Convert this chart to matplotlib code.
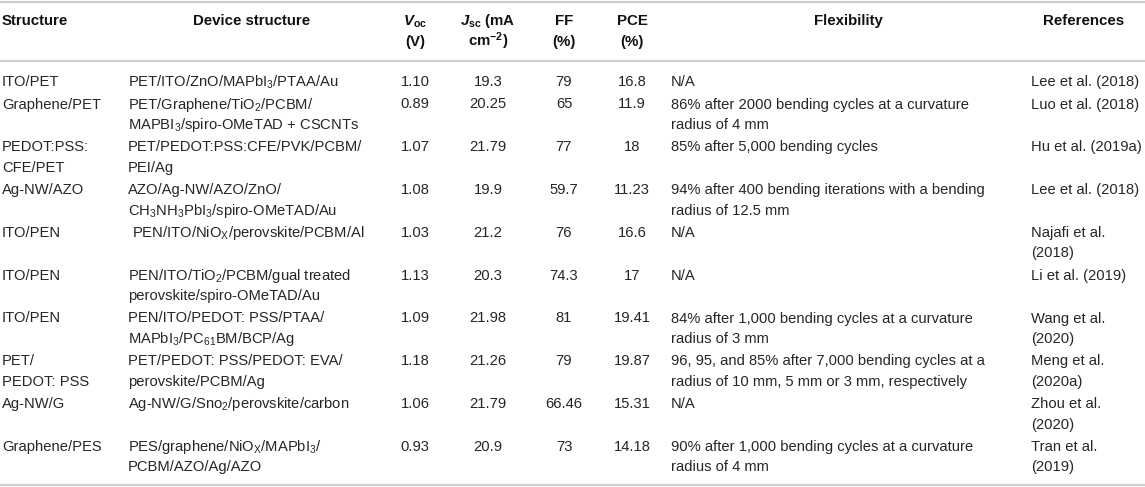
import matplotlib
matplotlib.use("Agg")
import matplotlib.pyplot as plt

plt.rcParams['font.family'] = ['Liberation Sans', 'DejaVu Sans']
plt.rcParams['mathtext.fontset'] = 'custom'
plt.rcParams['mathtext.rm'] = 'Liberation Sans'
plt.rcParams['mathtext.it'] = 'Liberation Sans:italic:bold'
plt.rcParams['mathtext.bf'] = 'Liberation Sans:bold'
plt.rcParams['mathtext.default'] = 'regular'

# table content
headers = ['Structure', 'Device structure', '$\\mathit{V}_{oc}$\n(V)',
           '$\\mathit{J}_{sc}$ (mA\ncm$^{-2}$)', 'FF\n(%)', 'PCE\n(%)',
           'Flexibility', 'References']

structures = ['ITO/PET', 'Graphene/PET', 'PEDOT:PSS:\nCFE/PET', 'Ag-NW/AZO',
              'ITO/PEN', 'ITO/PEN', 'ITO/PEN', 'PET/\nPEDOT: PSS', 'Ag-NW/G',
              'Graphene/PES']
devices = ['PET/ITO/ZnO/MAPbI$_3$/PTAA/Au',
           'PET/Graphene/TiO$_2$/PCBM/\nMAPBI$_3$/spiro-OMeTAD + CSCNTs',
           'PET/PEDOT:PSS:CFE/PVK/PCBM/\nPEI/Ag',
           'AZO/Ag-NW/AZO/ZnO/\nCH$_3$NH$_3$PbI$_3$/spiro-OMeTAD/Au',
           ' PEN/ITO/NiO$_X$/perovskite/PCBM/Al',
           'PEN/ITO/TiO$_2$/PCBM/gual treated\nperovskite/spiro-OMeTAD/Au',
           'PEN/ITO/PEDOT: PSS/PTAA/\nMAPbI$_3$/PC$_{61}$BM/BCP/Ag',
           'PET/PEDOT: PSS/PEDOT: EVA/\nperovskite/PCBM/Ag',
           'Ag-NW/G/Sno$_2$/perovskite/carbon',
           'PES/graphene/NiO$_X$/MAPbI$_3$/\nPCBM/AZO/Ag/AZO']
voc = ['1.10', '0.89', '1.07', '1.08', '1.03', '1.13', '1.09', '1.18', '1.06', '0.93']
jsc = ['19.3', '20.25', '21.79', '19.9', '21.2', '20.3', '21.98', '21.26', '21.79', '20.9']
ff = ['79', '65', '77', '59.7', '76', '74.3', '81', '79', '66.46', '73']
pce = ['16.8', '11.9', '18', '11.23', '16.6', '17', '19.41', '19.87', '15.31', '14.18']
flexibility = ['N/A',
               '86% after 2000 bending cycles at a curvature\nradius of 4 mm',
               '85% after 5,000 bending cycles',
               '94% after 400 bending iterations with a bending\nradius of 12.5 mm',
               'N/A', 'N/A',
               '84% after 1,000 bending cycles at a curvature\nradius of 3 mm',
               '96, 95, and 85% after 7,000 bending cycles at a\nradius of 10 mm, 5 mm or 3 mm, respectively',
               'N/A',
               '90% after 1,000 bending cycles at a curvature\nradius of 4 mm']
references = ['Lee et al. (2018)', 'Luo et al. (2018)', 'Hu et al. (2019a)',
              'Lee et al. (2018)', 'Najafi et al.\n(2018)', 'Li et al. (2019)',
              'Wang et al.\n(2020)', 'Meng et al.\n(2020a)', 'Zhou et al.\n(2020)',
              'Tran et al.\n(2019)']

columns = [structures, devices, voc, jsc, ff, pce, flexibility, references]
# (x, align) for body cells and header x
body_x = [(2, 'left'), (128, 'left'), (415, 'center'), (488, 'center'),
          (564, 'center'), (632, 'center'), (671, 'left'), (1031, 'left')]
head_x = [(2, 'left'), (252, 'center'), (415, 'center'), (488, 'center'),
          (564, 'center'), (632, 'center'), (848, 'center'), (1084, 'center')]

fs_head = 10.8
fs = 10.6
line_h = 20.5
row_pad = 1.8
base_off = 5.2
rule_col = '#cfcfcf'

fig = plt.figure(figsize=(11.45, 4.87), dpi=100)
ax = fig.add_axes([0, 0, 1, 1])
ax.set_xlim(0, 1145)
ax.set_ylim(487, 0)
ax.axis('off')

# rules
for y in (1.5, 61, 484.5):
    ax.plot([0, 1145], [y, y], color=rule_col, lw=1.6, solid_capstyle='butt')

# header
for (x, ha), h in zip(head_x, headers):
    for k, line in enumerate(h.split('\n')):
        ax.text(x, 20 + k * 21 + base_off, line, ha=ha, va='baseline',
                fontsize=fs_head, fontweight='bold', color='#111111')

# body
line_no = 0
for r in range(len(structures)):
    n = max(len(col[r].split('\n')) for col in columns)
    for (x, ha), col in zip(body_x, columns):
        for k, line in enumerate(col[r].split('\n')):
            y = 81 + (line_no + k) * line_h + r * row_pad
            ax.text(x, y + base_off, line, ha=ha, va='baseline',
                    fontsize=fs, color='#262626')
    line_no += n

fig.savefig('out.png', dpi=100)
